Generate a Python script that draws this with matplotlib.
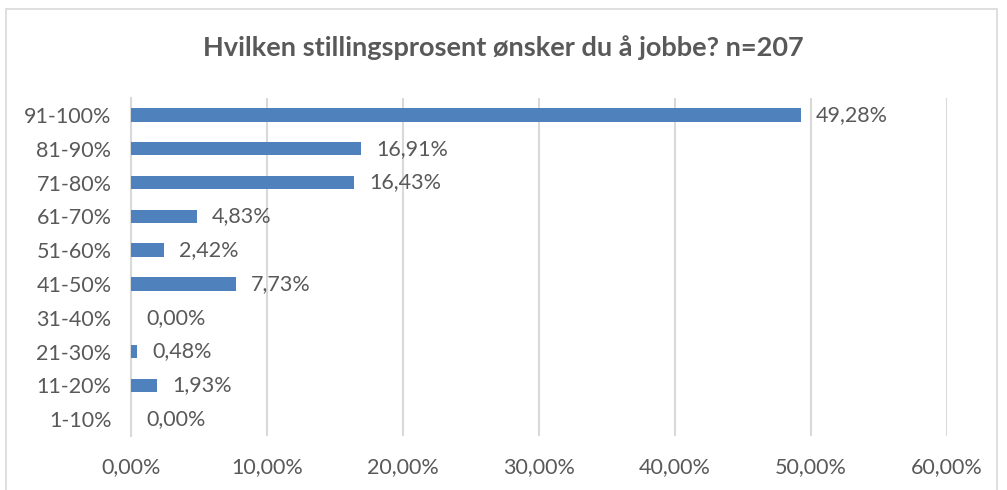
import matplotlib.pyplot as plt
from matplotlib.patches import Rectangle

categories = ["1-10%", "11-20%", "21-30%", "31-40%", "41-50%",
              "51-60%", "61-70%", "71-80%", "81-90%", "91-100%"]
values = [0.00, 1.93, 0.48, 0.00, 7.73, 2.42, 4.83, 16.43, 16.91, 49.28]
xticks = [0, 10, 20, 30, 40, 50, 60]
title = "Hvilken stillingsprosent ønsker du å jobbe? n=207"

plt.rcParams['font.family'] = ['Lato', 'DejaVu Sans']
text_color = "#595959"
bar_color = "#4F81BD"
grid_color = "#D9D9D9"

fig = plt.figure(figsize=(10.07, 4.90), dpi=100)
ax = fig.add_axes([0.130, 0.110, 0.810, 0.690])

y = range(len(categories))
ax.barh(y, values, height=0.4, color=bar_color, zorder=3)

for yi, v in zip(y, values):
    label = f"{v:.2f}".replace(".", ",") + "%"
    ax.annotate(label, (v, yi), xytext=(11, 0), textcoords="offset points",
                va="center", ha="left", fontsize=15.5, color=text_color)

ax.set_xlim(0, 60)
ax.set_ylim(-0.5, len(categories) - 0.5)
ax.set_xticks(xticks)
ax.set_xticklabels([f"{t:.2f}".replace(".", ",") + "%" for t in xticks])
ax.set_yticks(list(y))
ax.set_yticklabels(categories)
ax.tick_params(length=0, labelsize=15.5, labelcolor=text_color)
ax.tick_params(axis="x", pad=15)
ax.tick_params(axis="y", pad=14)
ax.grid(axis="x", color=grid_color, linewidth=1.5, zorder=0)
for s in ["top", "right", "bottom"]:
    ax.spines[s].set_visible(False)
ax.spines["left"].set_color(grid_color)
ax.spines["left"].set_linewidth(1.5)

fig.text(0.5, 0.902, title, ha="center", va="center", fontsize=19.5,
         fontweight="bold", color=text_color)

fig.patches.append(Rectangle((6 / 1007, -0.05), 991 / 1007, 1.05 - 9 / 490,
                             transform=fig.transFigure, fill=False,
                             edgecolor=grid_color, linewidth=1.2))

fig.savefig("out.png", dpi=100)
